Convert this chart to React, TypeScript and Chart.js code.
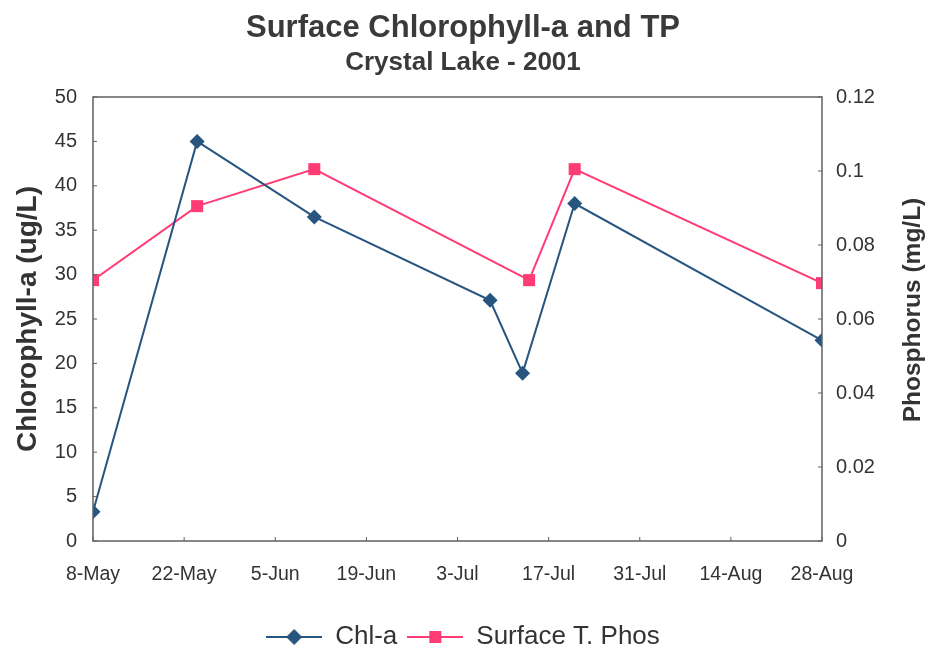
import React, { useEffect, useRef } from 'react';
import { Chart, registerables } from 'chart.js';

Chart.register(...registerables);

// ---- data ----
const xTickDays = [0, 14, 28, 42, 56, 70, 84, 98, 112];
const xTickLabels = ['8-May', '22-May', '5-Jun', '19-Jun', '3-Jul', '17-Jul', '31-Jul', '14-Aug', '28-Aug'];
// days after 8-May-2001
const chlDays = [0, 16, 34, 61, 66, 74, 112];
const chlValues = [3.3, 45, 36.5, 27.1, 18.9, 38, 22.6];
const tpDays = [0, 16, 34, 67, 74, 112];
const tpValues = [0.0705, 0.0905, 0.1005, 0.0705, 0.1005, 0.0697];

const FONT = '"Liberation Sans", Arial, Helvetica, sans-serif';
const TEXT = '#333333';
const CHL_COLOR = '#27557f';
const TP_COLOR = '#ff3c74';
const AXIS = '#606060';

function legendImage(color: string, kind: 'diamond' | 'square'): HTMLCanvasElement {
  const c = document.createElement('canvas');
  c.width = 56;
  c.height = 18;
  const g = c.getContext('2d')!;
  g.strokeStyle = color;
  g.lineWidth = 2;
  g.beginPath();
  g.moveTo(0, 9);
  g.lineTo(56, 9);
  g.stroke();
  g.fillStyle = color;
  g.beginPath();
  if (kind === 'diamond') {
    g.moveTo(28, 1);
    g.lineTo(36, 9);
    g.lineTo(28, 17);
    g.lineTo(20, 9);
    g.closePath();
  } else {
    g.rect(22, 3, 12, 12);
  }
  g.fill();
  return c;
}

const framePlugin = {
  id: 'frameAndTitles',
  afterDraw(chart: any) {
    const { ctx, chartArea: ca, scales } = chart;
    ctx.save();
    // frame
    ctx.strokeStyle = AXIS;
    ctx.lineWidth = 1.5;
    ctx.strokeRect(ca.left, ca.top, ca.right - ca.left, ca.bottom - ca.top);
    // inward tick marks
    ctx.lineWidth = 1;
    ctx.beginPath();
    scales.y.ticks.forEach((t: any) => {
      const py = scales.y.getPixelForValue(t.value);
      ctx.moveTo(ca.left, py);
      ctx.lineTo(ca.left + 4, py);
    });
    scales.y1.ticks.forEach((t: any) => {
      const py = scales.y1.getPixelForValue(t.value);
      ctx.moveTo(ca.right, py);
      ctx.lineTo(ca.right - 4, py);
    });
    scales.x.ticks.forEach((t: any) => {
      const px = scales.x.getPixelForValue(t.value);
      ctx.moveTo(px, ca.bottom);
      ctx.lineTo(px, ca.bottom - 4);
    });
    ctx.stroke();
    // axis titles (both read bottom-to-top)
    ctx.fillStyle = TEXT;
    ctx.textAlign = 'center';
    ctx.textBaseline = 'middle';
    const midY = (ca.top + ca.bottom) / 2;
    ctx.save();
    ctx.translate(28, midY);
    ctx.rotate(-Math.PI / 2);
    ctx.font = `bold 28px ${FONT}`;
    ctx.fillText('Chlorophyll-a (ug/L)', 0, 0);
    ctx.restore();
    ctx.save();
    ctx.translate(913, midY - 9);
    ctx.rotate(-Math.PI / 2);
    ctx.font = `bold 24.5px ${FONT}`;
    ctx.fillText('Phosphorus (mg/L)', 0, 0);
    ctx.restore();
    ctx.restore();
  },
};

const bgPlugin = {
  id: 'bg',
  beforeDraw(chart: any) {
    const { ctx, width, height } = chart;
    ctx.save();
    ctx.fillStyle = '#ffffff';
    ctx.fillRect(0, 0, width, height);
    ctx.restore();
  },
};

export default function App() {
  const ref = useRef<HTMLCanvasElement | null>(null);

  useEffect(() => {
    if (!ref.current) return;
    const chlImg = legendImage(CHL_COLOR, 'diamond');
    const tpImg = legendImage(TP_COLOR, 'square');
    const chart = new Chart(ref.current, {
      type: 'line',
      data: {
        datasets: [
          {
            label: 'Chl-a',
            data: chlDays.map((d, i) => ({ x: d, y: chlValues[i] })),
            yAxisID: 'y',
            borderColor: CHL_COLOR,
            backgroundColor: CHL_COLOR,
            borderWidth: 2,
            pointStyle: 'rectRot',
            pointRadius: 7.5,
            pointBorderWidth: 0,
            tension: 0,
          },
          {
            label: 'Surface T. Phos',
            data: tpDays.map((d, i) => ({ x: d, y: tpValues[i] })),
            yAxisID: 'y1',
            borderColor: TP_COLOR,
            backgroundColor: TP_COLOR,
            borderWidth: 2,
            pointStyle: 'rect',
            pointRadius: 8.5,
            pointBorderWidth: 0,
            tension: 0,
          },
        ],
      },
      options: {
        responsive: false,
        animation: false,
        layout: { padding: { left: 0, right: 0, top: 0, bottom: 5 } },
        plugins: {
          tooltip: { enabled: false },
          title: {
            display: true,
            text: 'Surface Chlorophyll-a and TP',
            color: '#3a3a3a',
            font: { family: FONT, size: 31, weight: 'bold', lineHeight: 1 },
            padding: { top: 12.5, bottom: 6 },
          },
          subtitle: {
            display: true,
            text: 'Crystal Lake - 2001',
            color: '#3a3a3a',
            font: { family: FONT, size: 26, weight: 'bold', lineHeight: 1 },
            padding: { top: 0, bottom: 21.5 },
          },
          legend: {
            display: true,
            position: 'bottom',
            labels: {
              color: TEXT,
              font: { family: FONT, size: 26 },
              padding: 10,
              usePointStyle: true,
              pointStyleWidth: 56,
              generateLabels: () => [
                { text: 'Chl-a', pointStyle: chlImg, fillStyle: CHL_COLOR, strokeStyle: CHL_COLOR, lineWidth: 0, hidden: false, datasetIndex: 0, fontColor: TEXT },
                { text: 'Surface T. Phos', pointStyle: tpImg, fillStyle: TP_COLOR, strokeStyle: TP_COLOR, lineWidth: 0, hidden: false, datasetIndex: 1, fontColor: TEXT },
              ],
            },
          },
        },
        scales: {
          x: {
            type: 'linear',
            min: 0,
            max: 112,
            grid: { display: false, drawTicks: false },
            border: { display: false },
            afterBuildTicks: (scale: any) => {
              scale.ticks = xTickDays.map((v) => ({ value: v }));
            },
            afterFit: (scale: any) => {
              scale.height = 73;
            },
            ticks: {
              autoSkip: false,
              maxRotation: 0,
              padding: 22,
              color: TEXT,
              font: { family: FONT, size: 19.5 },
              callback: (v: any) => {
                const i = xTickDays.indexOf(Number(v));
                return i >= 0 ? xTickLabels[i] : '';
              },
            },
          },
          y: {
            type: 'linear',
            position: 'left',
            min: 0,
            max: 50,
            grid: { display: false, drawTicks: false },
            border: { display: false },
            afterFit: (scale: any) => {
              scale.width = 93;
            },
            ticks: {
              stepSize: 5,
              padding: 16,
              color: TEXT,
              font: { family: FONT, size: 20 },
            },
          },
          y1: {
            type: 'linear',
            position: 'right',
            min: 0,
            max: 0.12,
            grid: { display: false, drawTicks: false },
            border: { display: false },
            afterFit: (scale: any) => {
              scale.width = 104;
            },
            ticks: {
              stepSize: 0.02,
              padding: 14,
              color: TEXT,
              font: { family: FONT, size: 20 },
              callback: (v: any) => String(Number(Number(v).toFixed(2))),
            },
          },
        },
      },
      plugins: [bgPlugin, framePlugin],
    } as any);
    return () => chart.destroy();
  }, []);

  return (
    <div style={{ position: 'fixed', left: 0, top: 0, width: 926, height: 665, background: '#fff' }}>
      <canvas ref={ref} width={926} height={665} style={{ display: 'block' }} />
    </div>
  );
}
